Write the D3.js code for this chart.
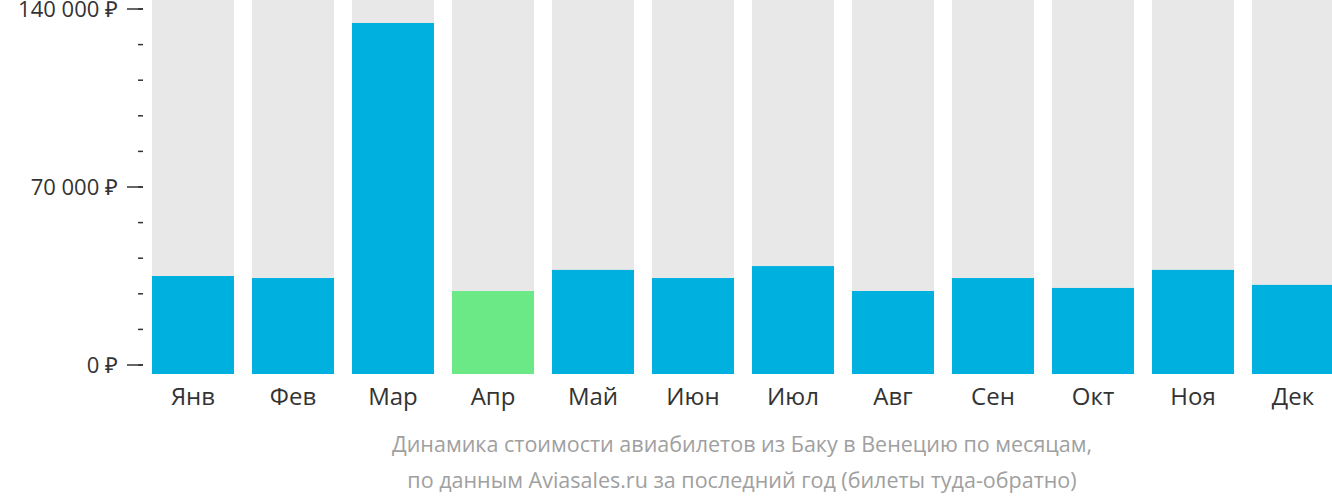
<!DOCTYPE html>
<html><head><meta charset="utf-8">
<script src="https://cdn.jsdelivr.net/npm/d3@7"></script>
<style>body{margin:0;background:#fff;font-family:"Open Sans",sans-serif}</style>
</head><body><svg id="c" width="1332" height="502"></svg>
<script>
const months=["Янв","Фев","Мар","Апр","Май","Июн","Июл","Авг","Сен","Окт","Ноя","Дек"];
const prices=[35000,34200,134500,29100,37400,34200,38900,29100,34200,30300,37400,31500];
const highlight=[false,false,false,true,false,false,false,false,false,false,false,false];
const majorTicks=[0,70000,140000];
const minorTicks=d3.range(0,140001,14000);
const caption=["Динамика стоимости авиабилетов из Баку в Венецию по месяцам,","по данным Aviasales.ru за последний год (билеты туда-обратно)"];

const svg=d3.select("#c");
const y=d3.scaleLinear().domain([0,140000]).range([365,9]);
const x=d3.scaleBand().domain(months).range([152,1334]).paddingInner(0.18).paddingOuter(0);
const fmt=v=>d3.format(",")(v).replace(/,/g," ")+" ₽";

svg.selectAll(".bg").data(months).enter().append("rect")
 .attr("x",d=>x(d)).attr("width",x.bandwidth()).attr("y",0).attr("height",y(0)+9).attr("fill","#e8e8e8");
svg.selectAll(".bar").data(prices).enter().append("rect")
 .attr("x",(d,i)=>x(months[i])).attr("width",x.bandwidth())
 .attr("y",d=>y(d)).attr("height",d=>y(0)-y(d)+9)
 .attr("fill",(d,i)=>highlight[i]?"#6ce987":"#00b0de");

svg.selectAll(".mt").data(minorTicks).enter().append("line")
 .attr("x1",138).attr("x2",143).attr("y1",d=>y(d)).attr("y2",d=>y(d)).attr("stroke","#333").attr("stroke-width",1.5);
svg.selectAll(".Mt").data(majorTicks).enter().append("line")
 .attr("x1",127).attr("x2",143).attr("y1",d=>y(d)).attr("y2",d=>y(d)).attr("stroke","#333").attr("stroke-width",1.5);
svg.selectAll(".yl").data(majorTicks).enter().append("text")
 .attr("x",118).attr("y",d=>y(d)+8).attr("text-anchor","end").attr("font-size",22).attr("fill","#333").text(fmt);
svg.selectAll(".xl").data(months).enter().append("text")
 .attr("x",d=>x(d)+x.bandwidth()/2).attr("y",405).attr("text-anchor","middle").attr("font-size",24).attr("fill","#333").text(d=>d);
svg.selectAll(".cap").data(caption).enter().append("text")
 .attr("x",742).attr("y",(d,i)=>452+i*36).attr("text-anchor","middle").attr("font-size",21.5).attr("fill","#a0a0a0").text(d=>d);
</script></body></html>
